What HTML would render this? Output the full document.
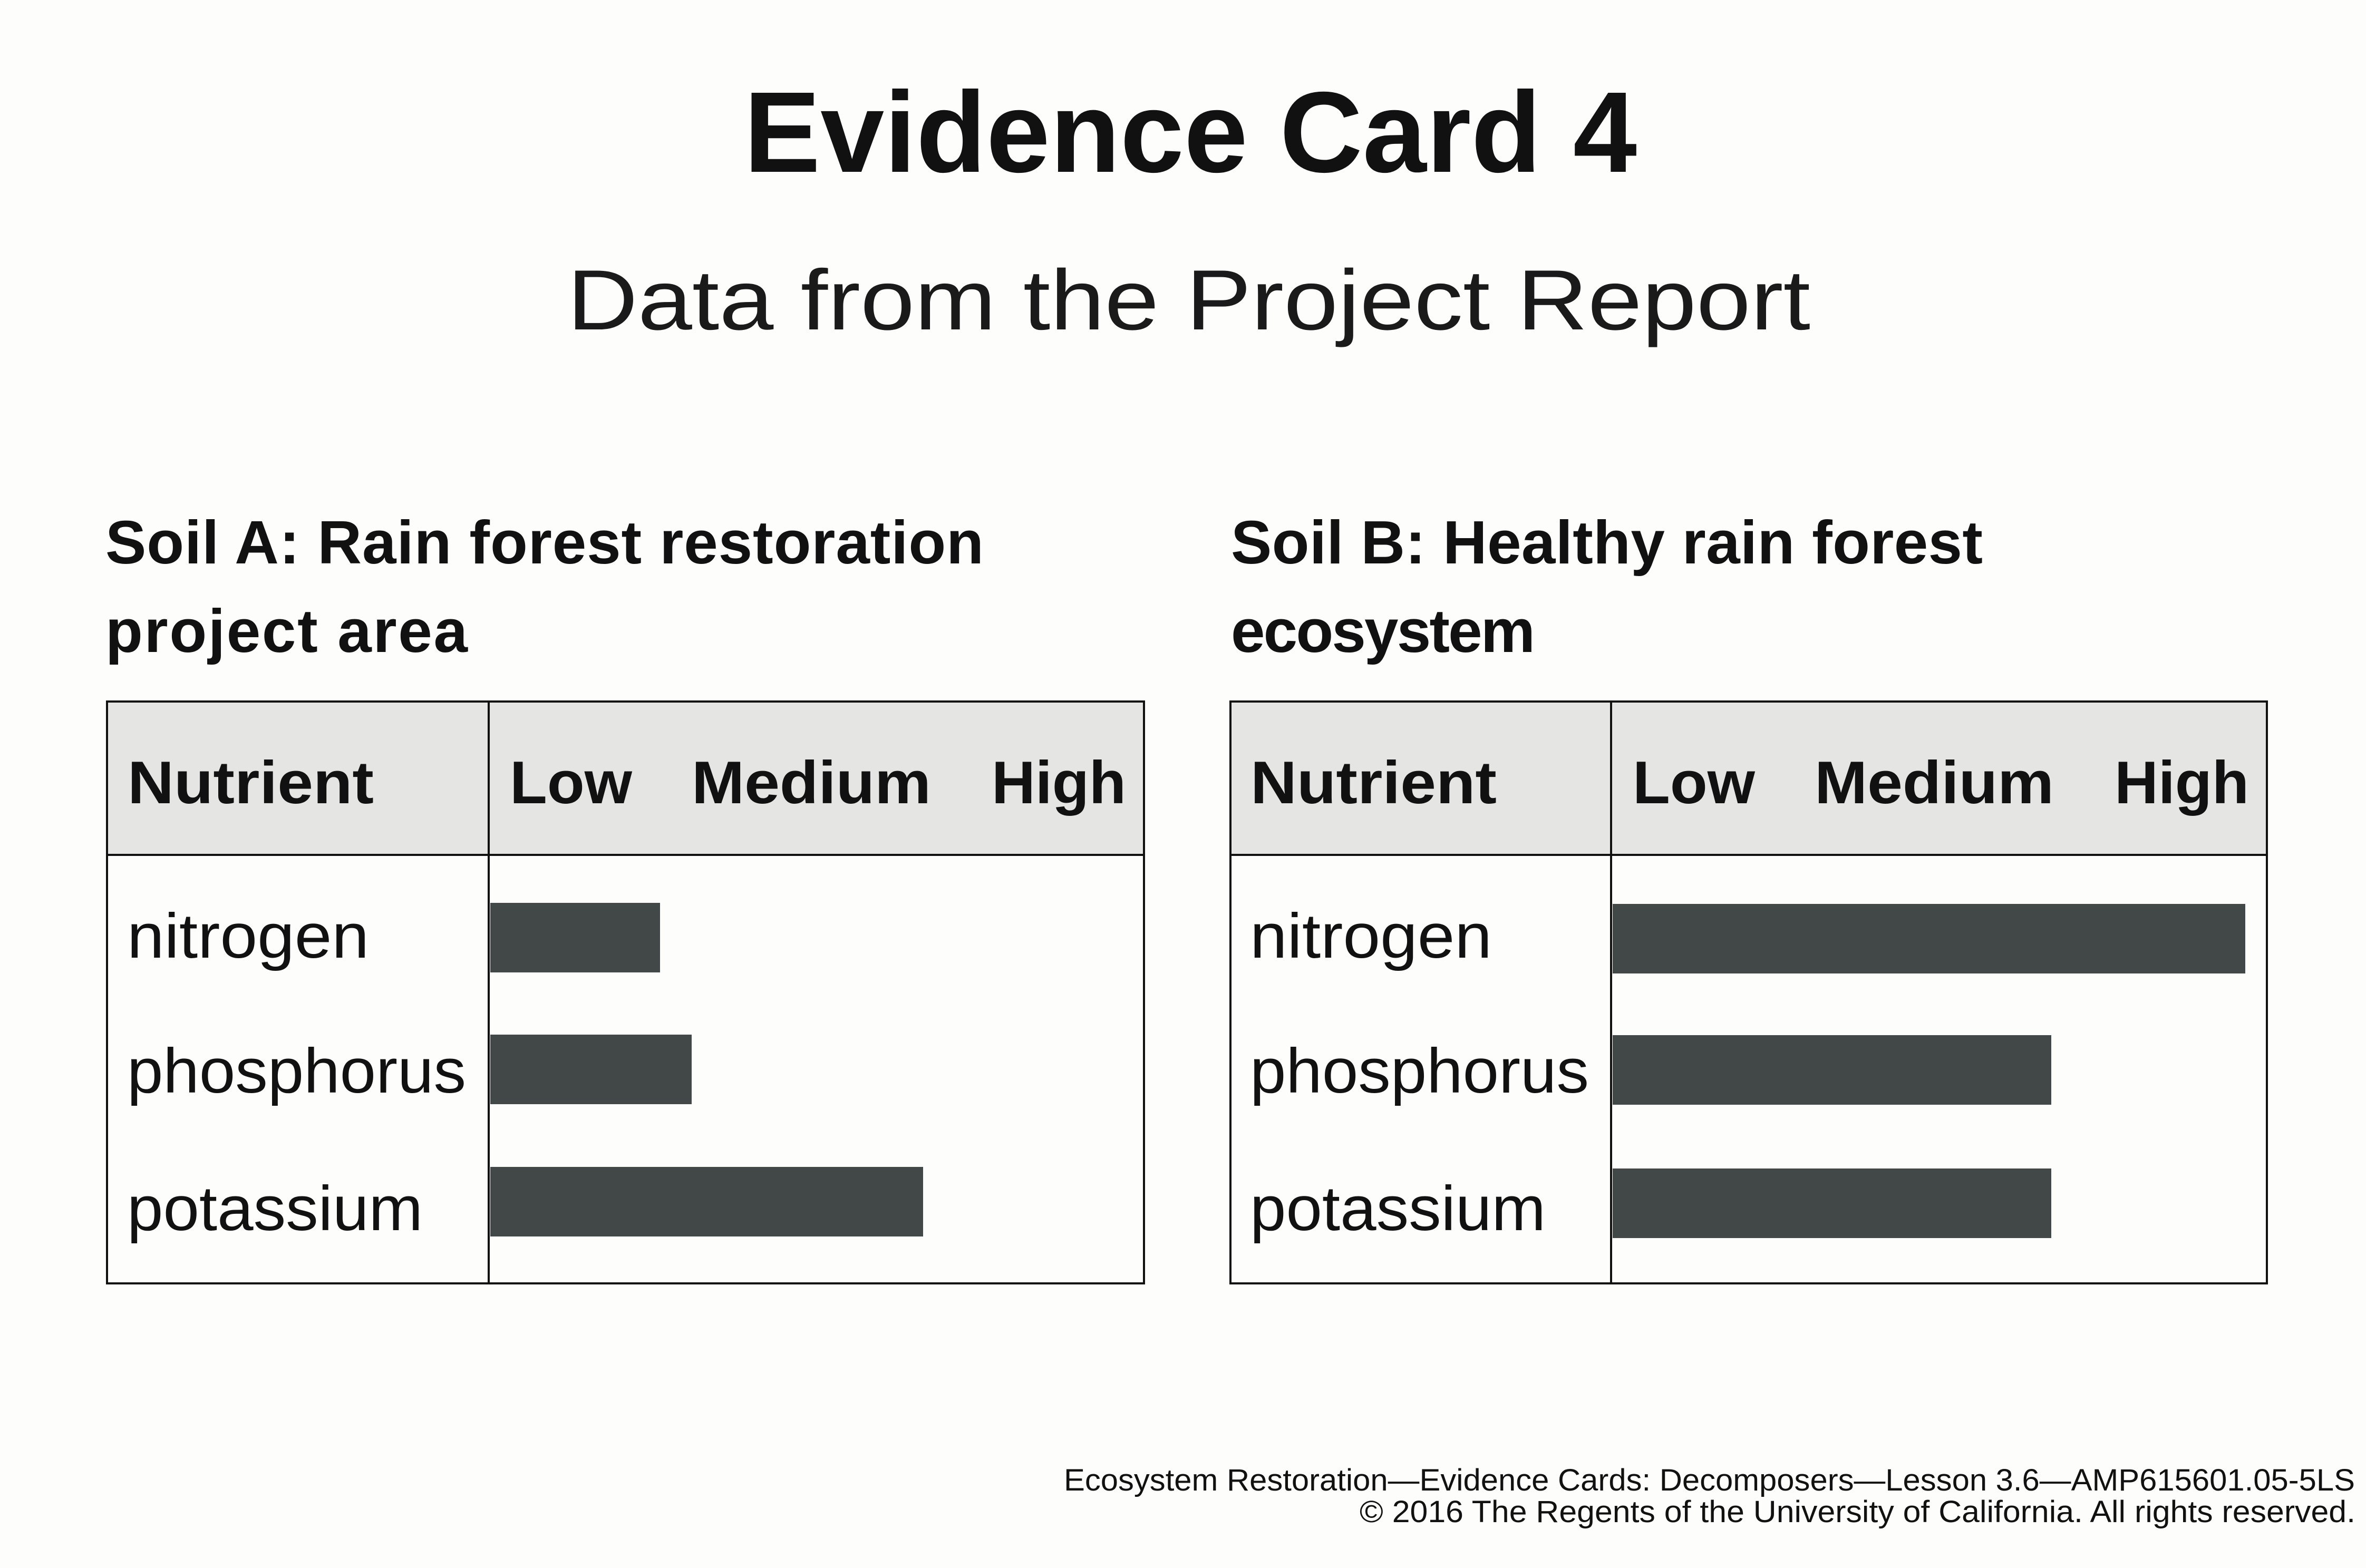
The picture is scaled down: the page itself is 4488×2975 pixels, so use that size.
<!DOCTYPE html>
<html>
<head>
<meta charset="utf-8">
<style>
html,body{margin:0;padding:0;background:#fdfdfc;}
svg{display:block;}
text{font-family:"Liberation Sans","DejaVu Sans",sans-serif;fill:#111;}
.b{font-weight:bold;}
</style>
</head>
<body>
<svg width="4488" height="2975" viewBox="0 0 4488 2975" xmlns="http://www.w3.org/2000/svg">
<rect x="0" y="0" width="4488" height="2975" fill="#fdfdfc"/>

<!-- Title -->
<text class="b" x="1411" y="326" font-size="218" textLength="1694" lengthAdjust="spacingAndGlyphs">Evidence Card 4</text>
<text x="1076" y="625" font-size="162" textLength="2358" lengthAdjust="spacingAndGlyphs" style="fill:#1a1a1a">Data from the Project Report</text>

<!-- Headings -->
<text class="b" x="200" y="1069" font-size="116" textLength="1666" lengthAdjust="spacing">Soil A: Rain forest restoration</text>
<text class="b" x="200" y="1237" font-size="116" textLength="687" lengthAdjust="spacing">project area</text>
<text class="b" x="2335" y="1069" font-size="116" textLength="1426" lengthAdjust="spacing">Soil B: Healthy rain forest</text>
<text class="b" x="2335" y="1237" font-size="116" textLength="577" lengthAdjust="spacing">ecosystem</text>

<!-- Table A -->
<rect x="203" y="1331" width="1967" height="291" fill="#e5e5e3"/>
<rect x="203" y="1331" width="1967" height="1104" fill="none" stroke="#111" stroke-width="4"/>
<line x1="203" y1="1622" x2="2170" y2="1622" stroke="#111" stroke-width="4"/>
<line x1="927" y1="1331" x2="927" y2="2435" stroke="#111" stroke-width="4"/>
<rect x="930" y="1713" width="322" height="132" fill="#424748"/>
<rect x="930" y="1963" width="382" height="132" fill="#424748"/>
<rect x="930" y="2214" width="821" height="132" fill="#424748"/>

<text class="b" x="242" y="1524" font-size="114" textLength="467" lengthAdjust="spacingAndGlyphs">Nutrient</text>
<text class="b" x="967" y="1524" font-size="114" textLength="232" lengthAdjust="spacingAndGlyphs">Low</text>
<text class="b" x="1312" y="1524" font-size="114" textLength="454" lengthAdjust="spacingAndGlyphs">Medium</text>
<text class="b" x="1881" y="1524" font-size="114" textLength="255" lengthAdjust="spacingAndGlyphs">High</text>

<text x="241" y="1817" font-size="120" textLength="459" lengthAdjust="spacingAndGlyphs">nitrogen</text>
<text x="241" y="2073" font-size="120" textLength="643" lengthAdjust="spacingAndGlyphs">phosphorus</text>
<text x="241" y="2334" font-size="120" textLength="561" lengthAdjust="spacingAndGlyphs">potassium</text>

<!-- Table B -->
<rect x="2334" y="1331" width="1966" height="291" fill="#e5e5e3"/>
<rect x="2334" y="1331" width="1966" height="1104" fill="none" stroke="#111" stroke-width="4"/>
<line x1="2334" y1="1622" x2="4300" y2="1622" stroke="#111" stroke-width="4"/>
<line x1="3056" y1="1331" x2="3056" y2="2435" stroke="#111" stroke-width="4"/>
<rect x="3059" y="1715" width="1200" height="132" fill="#424748"/>
<rect x="3059" y="1964" width="832" height="132" fill="#424748"/>
<rect x="3059" y="2217" width="832" height="132" fill="#424748"/>

<text class="b" x="2372" y="1524" font-size="114" textLength="467" lengthAdjust="spacingAndGlyphs">Nutrient</text>
<text class="b" x="3097" y="1524" font-size="114" textLength="232" lengthAdjust="spacingAndGlyphs">Low</text>
<text class="b" x="3442" y="1524" font-size="114" textLength="454" lengthAdjust="spacingAndGlyphs">Medium</text>
<text class="b" x="4011" y="1524" font-size="114" textLength="255" lengthAdjust="spacingAndGlyphs">High</text>

<text x="2371" y="1817" font-size="120" textLength="459" lengthAdjust="spacingAndGlyphs">nitrogen</text>
<text x="2371" y="2073" font-size="120" textLength="643" lengthAdjust="spacingAndGlyphs">phosphorus</text>
<text x="2371" y="2334" font-size="120" textLength="561" lengthAdjust="spacingAndGlyphs">potassium</text>

<!-- Footer -->
<text x="2018" y="2828" font-size="58" textLength="2449" lengthAdjust="spacingAndGlyphs">Ecosystem Restoration—Evidence Cards: Decomposers—Lesson 3.6—AMP615601.05-5LS</text>
<text x="2579" y="2888" font-size="58" textLength="1889" lengthAdjust="spacingAndGlyphs">© 2016 The Regents of the University of California. All rights reserved.</text>
</svg>
</body>
</html>
